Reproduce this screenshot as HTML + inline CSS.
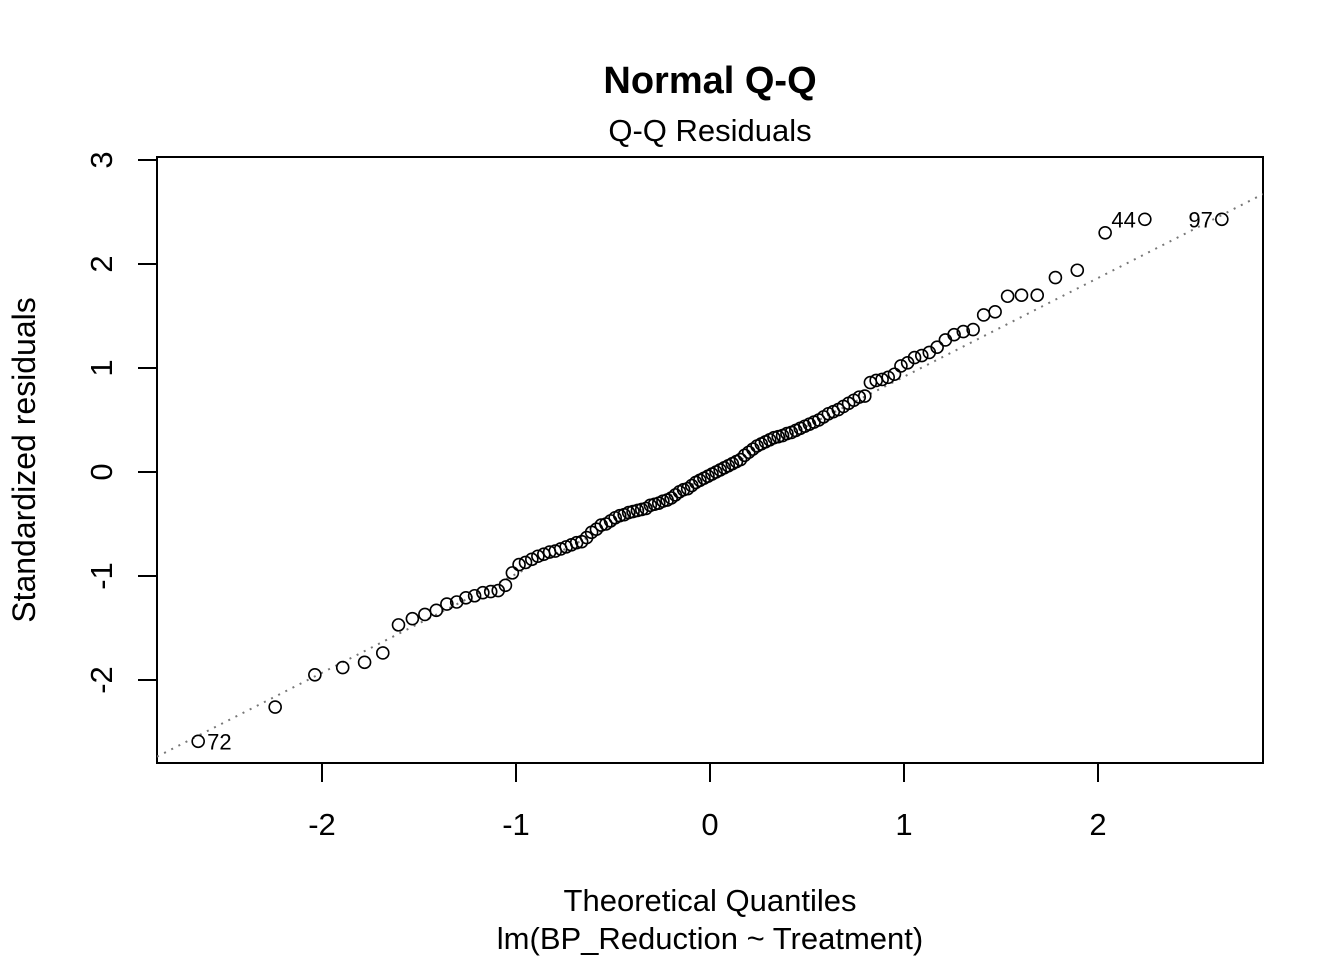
<!DOCTYPE html>
<html><head><meta charset="utf-8"><style>
body{margin:0;background:#fff}
svg text{font-family:"Liberation Sans",Arial,sans-serif;fill:#000}
</style></head><body>
<svg id="c" width="1344" height="960" xmlns="http://www.w3.org/2000/svg">
<rect width="1344" height="960" fill="#fff"/>
<text x="710" y="93" font-size="38" font-weight="bold" text-anchor="middle">Normal Q-Q</text>
<text x="710" y="141" font-size="31" text-anchor="middle">Q-Q Residuals</text>
<text x="710" y="911" font-size="31" text-anchor="middle">Theoretical Quantiles</text>
<text x="710" y="949" font-size="31" text-anchor="middle">lm(BP_Reduction ~ Treatment)</text>
<text transform="translate(35,460) rotate(-90)" font-size="32" text-anchor="middle">Standardized residuals</text>
<rect x="157" y="157" width="1106" height="606" fill="none" stroke="#000" stroke-width="2"/>
<g id="g"></g>
</svg>
<script>
const xTicks=[-2,-1,0,1,2];
const yTicks=[-2,-1,0,1,2,3];
const yTickLabels=["-2","-1","0","1","2","3"];
const residuals=[-2.59,-2.26,-1.95,-1.88,-1.83,-1.74,-1.47,-1.41,-1.37,-1.33,-1.27,-1.25,-1.21,-1.19,-1.16,-1.15,-1.14,-1.09,-0.97,-0.89,
-0.87,-0.84,-0.81,-0.79,-0.77,-0.76,-0.74,-0.72,-0.70,-0.68,-0.67,-0.63,-0.58,-0.55,-0.51,-0.50,-0.47,-0.44,-0.42,-0.41,
-0.39,-0.38,-0.37,-0.36,-0.35,-0.32,-0.31,-0.30,-0.28,-0.27,-0.25,-0.22,-0.19,-0.17,-0.16,-0.13,-0.10,-0.08,-0.06,-0.04,
-0.02,0.00,0.02,0.04,0.06,0.08,0.10,0.12,0.16,0.19,0.22,0.25,0.27,0.29,0.31,0.33,0.34,0.35,0.37,0.38,
0.40,0.42,0.44,0.46,0.48,0.50,0.53,0.56,0.58,0.60,0.63,0.66,0.69,0.72,0.73,0.86,0.88,0.89,0.91,0.94,
1.02,1.05,1.10,1.12,1.15,1.20,1.27,1.32,1.35,1.37,1.51,1.54,1.69,1.70,1.70,1.87,1.94,2.30,2.43,2.43];
const labelIdx=[0,118,119];
const labelText=["72","44","97"];

const X=v=>710+v*194, Y=v=>472-v*104;
function qnorm(p){const a=[-39.69683028665376,220.9460984245205,-275.9285104469687,138.3577518672690,-30.66479806614716,2.506628277459239],b=[-54.47609879822406,161.5858368580409,-155.6989798598866,66.80131188771972,-13.28068155288572],c=[-0.007784894002430293,-0.3223964580411365,-2.400758277161838,-2.549732539343734,4.374664141464968,2.938163982698783],d=[0.007784695709041462,0.3224671290700398,2.445134137142996,3.754408661907416];let q,r;
if(p<0.02425){q=Math.sqrt(-2*Math.log(p));return(((((c[0]*q+c[1])*q+c[2])*q+c[3])*q+c[4])*q+c[5])/((((d[0]*q+d[1])*q+d[2])*q+d[3])*q+1);}
if(p>1-0.02425){q=Math.sqrt(-2*Math.log(1-p));return-(((((c[0]*q+c[1])*q+c[2])*q+c[3])*q+c[4])*q+c[5])/((((d[0]*q+d[1])*q+d[2])*q+d[3])*q+1);}
q=p-0.5;r=q*q;return(((((a[0]*r+a[1])*r+a[2])*r+a[3])*r+a[4])*r+a[5])*q/(((((b[0]*r+b[1])*r+b[2])*r+b[3])*r+b[4])*r+1);}
const NS="http://www.w3.org/2000/svg",g=document.getElementById('g');
function el(t,at){const e=document.createElementNS(NS,t);for(const k in at)e.setAttribute(k,at[k]);g.appendChild(e);return e;}
xTicks.forEach(v=>{
 const t=el('line',{x1:X(v),x2:X(v),y1:763,y2:782,stroke:'#000','stroke-width':2});
 
 
 const l=el('text',{x:X(v),y:835,'font-size':31,'text-anchor':'middle'});l.textContent=String(v);
 
 
});
yTicks.forEach((v,i)=>{
 const t=el('line',{x1:138,x2:157,y1:Y(v),y2:Y(v),stroke:'#000','stroke-width':2});
 
 
 const l=el('text',{transform:`translate(112,${Y(v)}) rotate(-90)`,'font-size':31,'text-anchor':'middle'});l.textContent=yTickLabels[i];
 
 
});
const n=residuals.length;
const ys=residuals.slice().sort((a,b)=>a-b);
const th=ys.map((_,i)=>qnorm((i+1-0.5)/n));
function quant(arr,p){const h=(arr.length-1)*p,lo=Math.floor(h);return arr[lo]+(h-lo)*((arr[Math.min(lo+1,arr.length-1)])-arr[lo]);}
const y1=quant(ys,0.25),y3=quant(ys,0.75),x1=qnorm(0.25),x3=qnorm(0.75);
const slope=(y3-y1)/(x3-x1),icpt=y1-slope*x1;
const xa=(157-710)/194,xb=(1263-710)/194;
const ln=el('line',{x1:157,y1:Y(icpt+slope*xa),x2:1263,y2:Y(icpt+slope*xb),stroke:'#777','stroke-width':2,'stroke-dasharray':'2 6'});


const cp=document.createElementNS(NS,'clipPath');cp.id='clp';const cr=document.createElementNS(NS,'rect');cr.setAttribute('x',157);cr.setAttribute('y',157);cr.setAttribute('width',1106);cr.setAttribute('height',606);cp.appendChild(cr);g.appendChild(cp);ln.setAttribute('clip-path','url(#clp)');
ys.forEach((v,i)=>{
 const c=el('circle',{cx:X(th[i]),cy:Y(v),r:6,fill:'none',stroke:'#000','stroke-width':1.6});
 
 
});
labelIdx.forEach((k,j)=>{
 const right=th[k]<0;
 const l=el('text',{x:X(th[k])+(right?9:-9),y:Y(ys[k])+8,'font-size':22,'text-anchor':right?'start':'end'});
 l.textContent=labelText[j];
 
 
});
</script>
</body></html>
